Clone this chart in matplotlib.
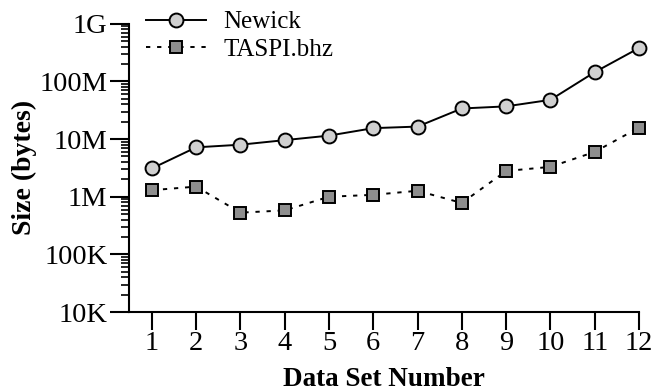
import matplotlib
matplotlib.use("Agg")
import matplotlib.pyplot as plt
from matplotlib.ticker import FixedLocator, FixedFormatter, LogLocator, NullFormatter

plt.rcParams['font.family'] = ['Liberation Serif', 'DejaVu Serif']

# data (bytes)
data_sets = [1, 2, 3, 4, 5, 6, 7, 8, 9, 10, 11, 12]
newick = [3.1e6, 7.2e6, 8.0e6, 9.6e6, 11.5e6, 15.5e6, 16.5e6, 34e6, 37e6, 48e6, 145e6, 380e6]
taspi = [1.3e6, 1.5e6, 0.53e6, 0.58e6, 1.0e6, 1.08e6, 1.27e6, 0.78e6, 2.8e6, 3.3e6, 6.0e6, 15.8e6]
y_ticks = [1e4, 1e5, 1e6, 1e7, 1e8, 1e9]
y_tick_labels = ['10K', '100K', '1M', '10M', '100M', '1G']

fig = plt.figure(figsize=(6.54, 3.91), dpi=100)
ax = fig.add_axes([0.197, 0.202, 0.780, 0.737])

ax.plot(data_sets, newick, '-', color='black', lw=1.4, marker='o', markersize=10,
        markerfacecolor='#d0d0d0', markeredgecolor='black', markeredgewidth=1.4,
        label='Newick', clip_on=False)
ax.plot(data_sets, taspi, color='black', lw=1.4, dashes=(2.2, 3.5), marker='s',
        markersize=9, markerfacecolor='#8e8e8e', markeredgecolor='black',
        markeredgewidth=1.4, label='TASPI.bhz', clip_on=False)

ax.set_yscale('log')
ax.set_ylim(1e4, 1e9)
ax.set_xlim(0.48, 12)
ax.yaxis.set_major_locator(FixedLocator(y_ticks))
ax.yaxis.set_major_formatter(FixedFormatter(y_tick_labels))
ax.yaxis.set_minor_locator(LogLocator(base=10, subs=range(2, 10)))
ax.yaxis.set_minor_formatter(NullFormatter())
ax.set_xticks(data_sets)

for s in ['top', 'right']:
    ax.spines[s].set_visible(False)
for s in ['left', 'bottom']:
    ax.spines[s].set_linewidth(1.5)

ax.tick_params(axis='both', which='major', direction='out', length=14, width=1.5,
               labelsize=20.5)
ax.tick_params(axis='y', which='major', pad=1.5)
ax.tick_params(axis='x', which='major', length=13, pad=0.5)
ax.tick_params(axis='y', which='minor', direction='out', length=6, width=1.2)

ax.set_xlabel('Data Set Number', fontsize=19.5, fontweight='bold', labelpad=8)
ax.set_ylabel('Size (bytes)', fontsize=20, fontweight='bold', labelpad=1.5)

ax.legend(loc='upper left', bbox_to_anchor=(0.034, 1.045), frameon=False, fontsize=18,
          handlelength=2.4, handletextpad=0.7, labelspacing=0.2, borderaxespad=0,
          borderpad=0)

fig.savefig('out.png', dpi=100)
